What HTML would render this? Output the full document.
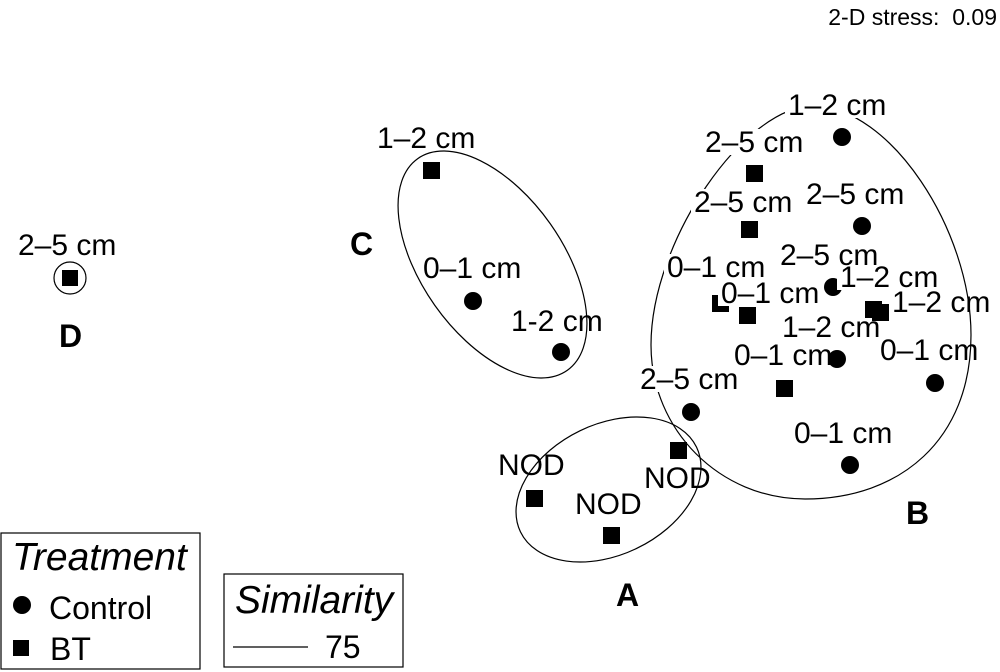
<!DOCTYPE html>
<html><head><meta charset="utf-8"><style>
html,body{margin:0;padding:0;background:#fff;}
svg{display:block;}
text{font-family:"Liberation Sans",Arial,sans-serif;fill:#000;}
.l{font-size:30px;}
.b{font-size:32px;font-weight:bold;}
</style></head><body>
<svg width="1000" height="672" viewBox="0 0 1000 672" xmlns="http://www.w3.org/2000/svg">
<rect width="1000" height="672" fill="#fff"/>
<text x="997" y="25" text-anchor="end" style="font-size:23px" xml:space="preserve">2-D stress:  0.09</text>

<!-- ellipses -->
<g fill="none" stroke="#000" stroke-width="1.2">
<path d="M651,345 C651,240 745,106 813,106 C890,106 971,230 971,335 C971,440 900,499 805,499 C720,499 651,430 651,345 Z"/>
<ellipse cx="492.5" cy="264.5" rx="129.6" ry="70.7" transform="rotate(54.8 492.5 264.5)"/>
<ellipse cx="608.5" cy="489.5" rx="97.7" ry="65.3" transform="rotate(-25.7 608.5 489.5)"/>
<circle cx="70" cy="278" r="16"/>
</g>

<!-- markers -->
<g fill="#000">
<rect x="62" y="270" width="16" height="16"/>
<rect x="423" y="162" width="17" height="17"/>
<circle cx="473" cy="301" r="9"/>
<circle cx="561" cy="352" r="9"/>
<rect x="526" y="490" width="17" height="17"/>
<rect x="603" y="527" width="17" height="17"/>
<rect x="670" y="442" width="17" height="17"/>
<circle cx="691" cy="412" r="9"/>
<circle cx="850" cy="465" r="9"/>
<circle cx="935" cy="383" r="9"/>
<rect x="776" y="380" width="17" height="17"/>
<circle cx="837" cy="359" r="9"/>
<rect x="739" y="307" width="17" height="17"/>
<rect x="712" y="295" width="17" height="17"/>
<rect x="865" y="301" width="17" height="17"/>
<rect x="872" y="304" width="17" height="17"/>
<circle cx="833" cy="287" r="9"/>
<circle cx="842" cy="137" r="9"/>
<rect x="746" y="165" width="17" height="17"/>
<rect x="741" y="221" width="17" height="17"/>
<circle cx="862" cy="226" r="9"/>
</g>

<!-- B labels with white background -->
<g>
<rect x="785" y="92" width="104" height="26" fill="#fff"/><text class="l" x="788" y="115">1–2 cm</text>
<rect x="702" y="129" width="104" height="26" fill="#fff"/><text class="l" x="705" y="152">2–5 cm</text>
<rect x="691" y="189" width="104" height="26" fill="#fff"/><text class="l" x="694" y="212">2–5 cm</text>
<rect x="664" y="254" width="104" height="26" fill="#fff"/><text class="l" x="667" y="277">0–1 cm</text>
<rect x="718" y="280" width="104" height="26" fill="#fff"/><text class="l" x="721" y="303">0–1 cm</text>
<rect x="837" y="264" width="104" height="26" fill="#fff"/><text class="l" x="840" y="287">1–2 cm</text>
<rect x="637" y="366" width="104" height="26" fill="#fff"/><text class="l" x="640" y="389">2–5 cm</text>
</g>
<text class="l" x="806" y="204">2–5 cm</text>
<text class="l" x="780" y="265">2–5 cm</text>
<text class="l" x="892" y="312">1–2 cm</text>
<text class="l" x="782" y="337">1–2 cm</text>
<text class="l" x="734" y="365">0–1 cm</text>
<text class="l" x="880" y="360">0–1 cm</text>
<text class="l" x="794" y="443">0–1 cm</text>

<!-- A labels -->
<text class="l" x="498" y="475">NOD</text>
<text class="l" x="575" y="514">NOD</text>
<text class="l" x="644" y="488">NOD</text>

<!-- C labels -->
<text class="l" x="377" y="148">1–2 cm</text>
<text class="l" x="423" y="278">0–1 cm</text>
<text class="l" x="511" y="331">1-2 cm</text>

<!-- D labels -->
<text class="l" x="18" y="255">2–5 cm</text>

<!-- group letters -->
<text class="b" x="616" y="606">A</text>
<text class="b" x="906" y="524">B</text>
<text class="b" x="350" y="255">C</text>
<text class="b" x="59" y="347">D</text>

<!-- legend: Treatment -->
<rect x="1" y="533" width="199" height="136" fill="none" stroke="#000" stroke-width="1.2"/>
<text x="12" y="570" style="font-size:39px;font-style:italic">Treatment</text>
<circle cx="22" cy="605" r="9" fill="#000"/>
<text x="49" y="619" style="font-size:32px">Control</text>
<rect x="13" y="640" width="16" height="16" fill="#000"/>
<text x="50" y="660" style="font-size:32px">BT</text>

<!-- legend: Similarity -->
<rect x="224" y="574" width="179" height="93" fill="none" stroke="#000" stroke-width="1.2"/>
<text x="235" y="613" style="font-size:39px;font-style:italic">Similarity</text>
<line x1="233" y1="647" x2="308" y2="647" stroke="#000" stroke-width="1.2"/>
<text x="325" y="658" style="font-size:32px">75</text>
</svg>
</body></html>
